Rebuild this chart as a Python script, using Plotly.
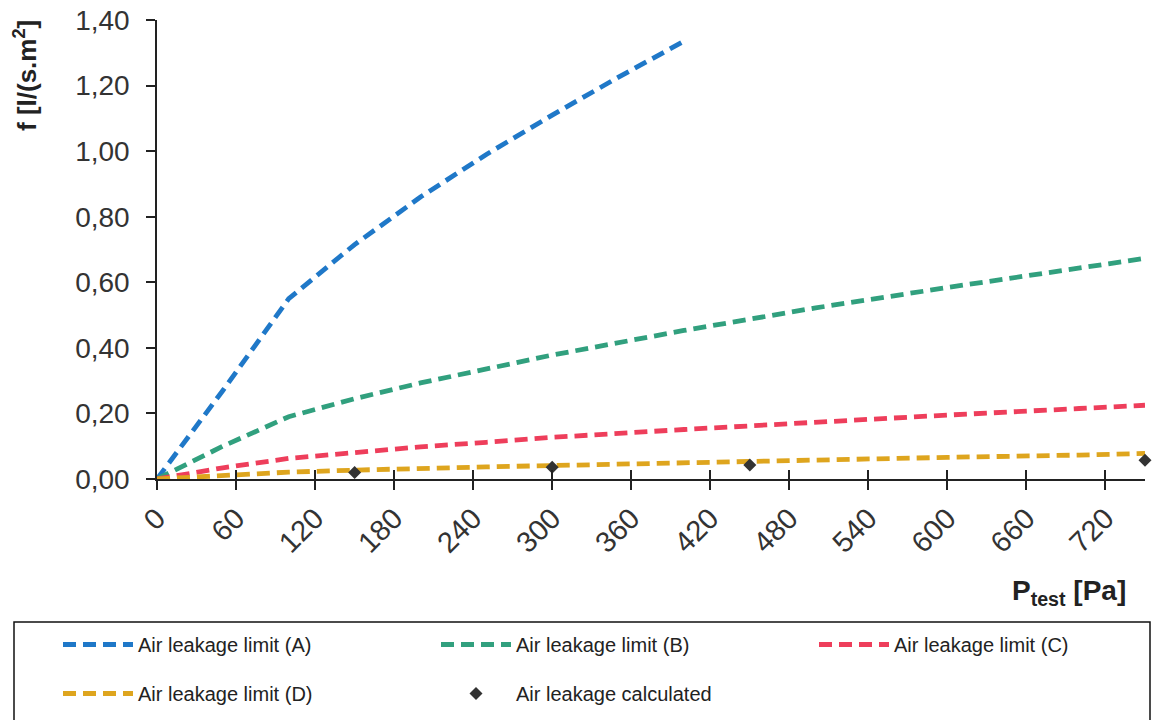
import plotly.graph_objects as go

# ---- data ----
p_A = [0, 50, 100, 150, 200, 250, 300, 350, 400]
f_A = [0.0, 0.27, 0.55, 0.715, 0.86, 0.99, 1.11, 1.225, 1.335]

p_BCD = [0, 50, 100, 150, 200, 250, 300, 400, 500, 600, 700, 750]
f_B = [0.0, 0.10, 0.19, 0.245, 0.293, 0.337, 0.378, 0.453, 0.522, 0.584, 0.644, 0.673]
f_C = [0.0, 0.034, 0.063, 0.082, 0.098, 0.112, 0.127, 0.151, 0.174, 0.195, 0.215, 0.225]
f_D = [0.0, 0.011, 0.021, 0.027, 0.033, 0.037, 0.041, 0.050, 0.058, 0.066, 0.073, 0.078]

p_calc = [150, 300, 450, 750]
f_calc = [0.020, 0.036, 0.043, 0.057]

names = ["Air leakage limit (A)", "Air leakage limit (B)",
         "Air leakage limit (C)", "Air leakage limit (D)"]
calc_name = "Air leakage calculated"

x_ticks = [0, 60, 120, 180, 240, 300, 360, 420, 480, 540, 600, 660, 720]
y_ticks = [0.0, 0.2, 0.4, 0.6, 0.8, 1.0, 1.2, 1.4]
y_tick_text = ["0,00", "0,20", "0,40", "0,60", "0,80", "1,00", "1,20", "1,40"]

colors = ["#1f78c8", "#31a07e", "#ee3e5b", "#dea51e"]

FONT = "Liberation Sans, Arial, sans-serif"

# the page body margin is removed by a post script, so figure px == page px
W, H = 1156, 720
PL, PR, PT, PB = 157, 1145, 20, 479          # plot area in page pixels
L, T, R, B = PL, PT, W - PR, H - PB
pw, ph = PR - PL, PB - PT


def px2x(v):
    return (v - PL) / pw


def py2y(v):
    return (PB - v) / ph


legend_of = ["legend", "legend2", "legend3", "legend"]

fig = go.Figure()
series = [(p_A, f_A), (p_BCD, f_B), (p_BCD, f_C), (p_BCD, f_D)]
for i, ((px, fy), nm, c) in enumerate(zip(series, names, colors)):
    fig.add_trace(go.Scatter(
        x=px, y=fy, name=nm, mode="lines",
        line=dict(color=c, width=4.8, dash="13px,7px"),
        legend=legend_of[i], legendgroup=nm, cliponaxis=False,
    ))

fig.add_trace(go.Scatter(
    x=p_calc, y=f_calc, name=calc_name, mode="markers",
    marker=dict(symbol="diamond", size=10, color="#333333"),
    xaxis="x2", legend="legend2", legendgroup=calc_name, cliponaxis=False,
))

axis_common = dict(showline=True, linecolor="#222222", linewidth=1.5,
                   ticks="outside", ticklen=9, tickwidth=1.5, tickcolor="#222222",
                   showgrid=False, zeroline=False)

legend_common = dict(orientation="v", xanchor="left", yanchor="top",
                     y=py2y(625), itemwidth=70, tracegroupgap=20,
                     font=dict(size=20, family=FONT, color="#222222"),
                     bgcolor="rgba(0,0,0,0)", borderwidth=0)

fig.update_layout(
    width=W, height=H,
    margin=dict(l=L, r=R, t=T, b=B, autoexpand=False),
    paper_bgcolor="white", plot_bgcolor="white",
    font=dict(family=FONT, color="#333333"),
    xaxis=dict(range=[0, 750], tickmode="array", tickvals=x_ticks, tickangle=-45,
               tickfont=dict(size=29, color="#333333"), **axis_common),
    xaxis2=dict(overlaying="x", matches="x", anchor="y", side="bottom",
                range=[0, 750], tickmode="array", tickvals=x_ticks,
                ticks="inside", ticklen=9,
                tickwidth=1.5, tickcolor="#222222", showticklabels=False,
                showline=False, showgrid=False, zeroline=False),
    yaxis=dict(range=[0, 1.4], tickmode="array", tickvals=y_ticks,
               ticktext=y_tick_text,
               tickfont=dict(size=28, color="#333333"), ticklabelstandoff=11,
               **axis_common),
    legend=dict(x=px2x(58), **legend_common),
    legend2=dict(x=px2x(436), **legend_common),
    legend3=dict(x=px2x(814), **legend_common),
    showlegend=True,
)

fig.add_shape(type="rect", xref="paper", yref="paper",
              x0=px2x(14), x1=px2x(1150), y0=py2y(724), y1=py2y(622),
              line=dict(color="#111111", width=1.5), fillcolor="rgba(0,0,0,0)",
              layer="above")

fig.add_annotation(text="<b>f [l/(s.m<sup>2</sup>]</b>", textangle=-90,
                   xref="paper", yref="paper", x=px2x(26), y=py2y(76),
                   xanchor="center", yanchor="middle", showarrow=False,
                   font=dict(size=26, family=FONT, color="#222222"))

fig.add_annotation(text="<b>P<sub>test</sub> [Pa]</b>",
                   xref="paper", yref="paper", x=px2x(1128), y=py2y(592),
                   xanchor="right", yanchor="middle", showarrow=False,
                   font=dict(size=28, family=FONT, color="#222222"))

fig.write_html(
    "out.html",
    config={"displayModeBar": False},
    post_script="document.body.style.margin='0px';"
                "document.body.style.overflow='hidden';",
)
